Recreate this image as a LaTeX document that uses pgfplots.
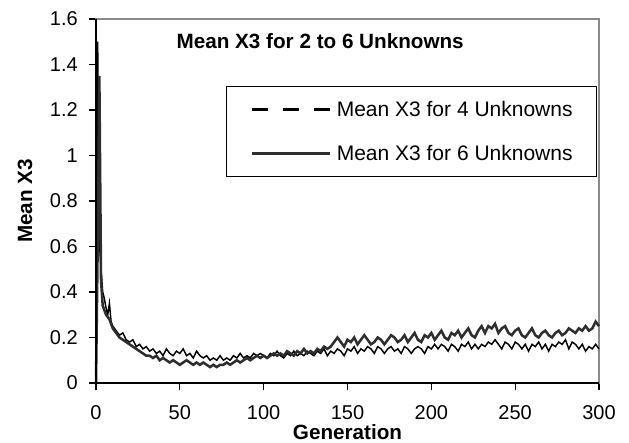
\documentclass[border=0pt]{standalone}
\usepackage{pgfplots}
\pgfplotsset{compat=1.18}
\usepackage{fontspec}
\setmainfont{Liberation Sans}
\definecolor{thickgray}{HTML}{2E2E2E}
\definecolor{frame}{HTML}{8A8A8A}
\begin{document}
\begin{tikzpicture}
\path[use as bounding box] (0,0) rectangle (471.75pt,332.25pt);
\begin{axis}[
  at={(72pt,45pt)}, anchor=south west,
  scale only axis, width=377.25pt, height=273pt,
  xmin=0, xmax=300, ymin=0, ymax=1.6,
  xtick={0,50,...,300}, ytick={0,0.2,...,1.6},
  xtick pos=bottom, ytick pos=left,
  tick align=outside, major tick length=5.5pt,
  major tick style={black, line width=0.8pt},
  axis line style={draw=frame, line width=1.3pt},
  clip=false,
  /pgf/number format/assume math mode=true,
  ticklabel style={font=\fontsize{15}{18}\selectfont},
  xticklabel style={anchor=base, inner sep=0pt, yshift=-21.5pt},
  yticklabel style={anchor=east, inner sep=0pt, xshift=-8pt},
  xlabel={Generation}, ylabel={Mean X3},
  every axis x label/.style={at={(rel axis cs:0.5,0)}, anchor=base, yshift=-42.5pt, inner sep=0pt,
    font=\fontsize{15.5}{18}\selectfont\bfseries},
  every axis y label/.style={at={(rel axis cs:0,0.5)}, anchor=center, rotate=90, yshift=53.25pt, inner sep=0pt,
    font=\fontsize{15.5}{18}\selectfont\bfseries},
  legend style={at={(rel axis cs:0.996,0.816)}, anchor=north east,
    draw=black, line width=0.6pt, inner xsep=18pt, inner ysep=11pt,
    font=\fontsize{15.75}{18}\selectfont, row sep=20pt,
    nodes={inner sep=0pt}, column sep=3.75pt},
  legend cell align=left,
  legend image code/.code={\draw[#1] (0pt,0pt) -- (58.5pt,0pt);},
]
\addplot[black, line width=1.1pt, forget plot] coordinates {
(0,0.0)(1,1.50)(2,0.62)(3,0.50)(4,0.40)(5,0.37)(6,0.33)(7,0.30)(8,0.35)(9,0.27)(10,0.25)(11,0.24)(12,0.23)
(14,0.21)(16,0.22)(18,0.19)(20,0.18)(22,0.19)(24,0.16)(26,0.17)(28,0.15)(30,0.16)(32,0.14)(34,0.15)(36,0.13)
(38,0.14)(40,0.12)(42,0.15)(44,0.13)(46,0.12)(48,0.14)(50,0.13)(52,0.15)(54,0.12)(56,0.13)(58,0.11)(60,0.14)
(62,0.12)(64,0.11)(66,0.12)(68,0.10)(70,0.11)(72,0.10)(74,0.12)(76,0.10)(78,0.11)(80,0.10)(82,0.12)(84,0.11)
(86,0.13)(88,0.11)(90,0.12)(92,0.11)(94,0.13)(96,0.12)(98,0.13)(100,0.12)(102,0.11)(104,0.13)(106,0.12)(108,0.14)
(110,0.12)(112,0.11)(114,0.13)(116,0.12)(118,0.14)(120,0.12)(122,0.13)(124,0.12)(126,0.14)(128,0.13)(130,0.12)
(132,0.14)(134,0.13)(136,0.15)(138,0.12)(140,0.14)(142,0.13)(144,0.15)(146,0.14)(148,0.12)(150,0.15)(152,0.14)
(154,0.16)(156,0.13)(158,0.15)(160,0.14)(162,0.16)(164,0.15)(166,0.13)(168,0.16)(170,0.15)(172,0.13)(174,0.15)
(176,0.16)(178,0.14)(180,0.15)(182,0.13)(184,0.16)(186,0.15)(188,0.13)(190,0.15)(192,0.16)(194,0.15)(196,0.13)
(198,0.16)(200,0.15)(202,0.17)(204,0.15)(206,0.17)(208,0.16)(210,0.14)(212,0.17)(214,0.16)(216,0.14)(218,0.17)
(220,0.16)(222,0.18)(224,0.15)(226,0.17)(228,0.15)(230,0.17)(232,0.16)(234,0.18)(236,0.17)(238,0.19)(240,0.17)
(242,0.15)(244,0.18)(246,0.17)(248,0.15)(250,0.18)(252,0.17)(254,0.15)(256,0.17)(258,0.14)(260,0.17)(262,0.16)
(264,0.18)(266,0.15)(268,0.17)(270,0.14)(272,0.17)(274,0.16)(276,0.18)(278,0.17)(280,0.19)(282,0.15)(284,0.18)
(286,0.17)(288,0.15)(290,0.17)(292,0.14)(294,0.16)(296,0.15)(298,0.17)(300,0.15)
};
\addplot[thickgray, line width=1.9pt, forget plot] coordinates {
(0,0.0)(1,0.60)(2,1.35)(3,0.45)(4,0.34)(5,0.32)(6,0.30)(7,0.29)(8,0.28)(9,0.26)(10,0.24)(11,0.23)(12,0.22)
(14,0.20)(16,0.19)(18,0.18)(20,0.17)(22,0.16)(24,0.15)(26,0.14)(28,0.13)(30,0.12)(32,0.12)(34,0.11)(36,0.12)
(38,0.10)(40,0.11)(42,0.10)(44,0.09)(46,0.10)(48,0.09)(50,0.08)(52,0.09)(54,0.10)(56,0.09)(58,0.08)(60,0.09)
(62,0.08)(64,0.09)(66,0.08)(68,0.07)(70,0.08)(72,0.07)(74,0.08)(76,0.08)(78,0.09)(80,0.08)(82,0.09)(84,0.10)
(86,0.09)(88,0.10)(90,0.11)(92,0.10)(94,0.11)(96,0.12)(98,0.11)(100,0.12)(102,0.11)(104,0.12)(106,0.13)(108,0.12)
(110,0.13)(112,0.12)(114,0.14)(116,0.13)(118,0.12)(120,0.14)(122,0.13)(124,0.15)(126,0.13)(128,0.14)(130,0.13)
(132,0.15)(134,0.14)(136,0.16)(138,0.15)(140,0.16)(142,0.18)(144,0.20)(146,0.18)(148,0.16)(150,0.19)(152,0.18)
(154,0.20)(156,0.17)(158,0.19)(160,0.21)(162,0.19)(164,0.17)(166,0.18)(168,0.20)(170,0.19)(172,0.17)(174,0.19)
(176,0.21)(178,0.20)(180,0.18)(182,0.19)(184,0.21)(186,0.18)(188,0.20)(190,0.22)(192,0.19)(194,0.18)(196,0.21)
(198,0.20)(200,0.22)(202,0.19)(204,0.21)(206,0.23)(208,0.20)(210,0.19)(212,0.22)(214,0.21)(216,0.23)(218,0.20)
(220,0.22)(222,0.24)(224,0.21)(226,0.20)(228,0.23)(230,0.25)(232,0.22)(234,0.25)(236,0.24)(238,0.26)(240,0.22)
(242,0.24)(244,0.25)(246,0.22)(248,0.21)(250,0.23)(252,0.24)(254,0.21)(256,0.20)(258,0.22)(260,0.24)(262,0.21)
(264,0.20)(266,0.22)(268,0.23)(270,0.21)(272,0.20)(274,0.22)(276,0.23)(278,0.21)(280,0.22)(282,0.24)(284,0.23)
(286,0.22)(288,0.24)(290,0.23)(292,0.25)(294,0.23)(296,0.24)(298,0.27)(300,0.25)
};
\addlegendimage{black, line width=2.2pt, dash pattern=on 12pt off 11.25pt}
\addlegendentry{Mean X3 for 4 Unknowns}
\addlegendimage{thickgray, line width=1.8pt}
\addlegendentry{Mean X3 for 6 Unknowns}
\draw[black, line width=1.2pt] (rel axis cs:0,1) -- (rel axis cs:0,0) -- (rel axis cs:1,0);
\node[anchor=base west, font=\fontsize{15.5}{18}\selectfont\bfseries] at (rel axis cs:0.151,0.920) {Mean X3 for 2 to 6 Unknowns};
\end{axis}
\end{tikzpicture}
\end{document}
